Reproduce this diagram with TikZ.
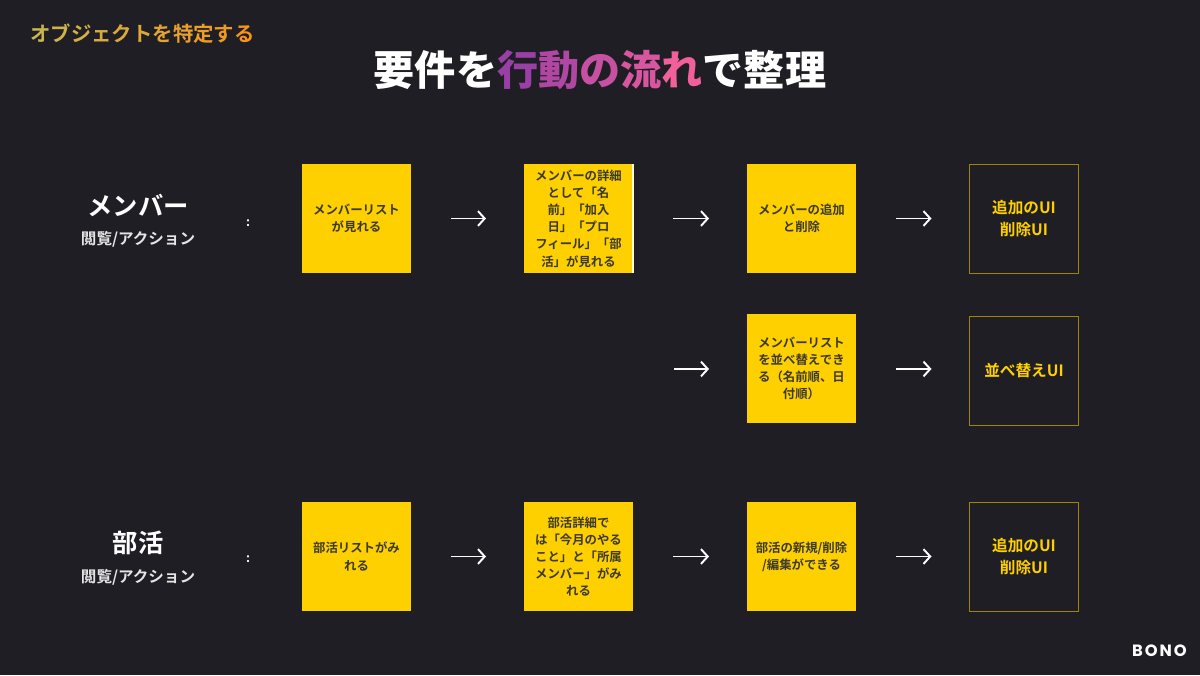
\documentclass[tikz,border=0pt]{standalone}
\usepackage{fontspec}
\setmainfont{Noto Sans CJK JP}[BoldFont={Noto Sans CJK JP Bold}]
\newfontfamily\headfont{Noto Sans CJK JP Black}
\newfontfamily\bonofont[LetterSpace=12]{Poppins Bold}
\usetikzlibrary{calc,arrows.meta}
\definecolor{bgdark}{HTML}{1E1E24}
\definecolor{memoyellow}{HTML}{FFD000}
\definecolor{memotext}{HTML}{3C3A2C}
\definecolor{uiedge}{HTML}{A08300}
\definecolor{gradA}{HTML}{9A3FA6}
\definecolor{gradB}{HTML}{F2609C}
\definecolor{subA}{HTML}{C9B64F}
\definecolor{subB}{HTML}{F8941A}
\tikzset{
	memo/.style={fill=memoyellow,text=memotext,minimum size=2.18cm,inner sep=0pt,outer sep=0pt,align=center,font=\bfseries\fontsize{7.05}{9.75}\selectfont},
	uibox/.style={draw=uiedge,line width=0.5pt,text=memoyellow,minimum size=2.18cm,inner sep=0pt,outer sep=0pt,align=center,font=\bfseries\fontsize{8.9}{13}\selectfont},
	flow/.style={white,line width=1.1pt,-{Straight Barb[length=3.8pt,width=8.4pt,line width=1.1pt]},shorten <=0.8cm,shorten >=0.76cm},
	rolelabel/.style={text=white,font=\bfseries\fontsize{14.4}{16}\selectfont},
	sublabel/.style={text=white!90!black,font=\bfseries\fontsize{8.85}{10}\selectfont},
	colonlabel/.style={text=white,font=\bfseries\fontsize{7}{8}\selectfont},
}
\begin{document}
\begin{tikzpicture}
		\fill [bgdark] (0,0) rectangle (24,13.5);
		\useasboundingbox (0,0) rectangle (24,13.5);
		% headings
		\node (kicker) [anchor=west,inner sep=0pt,font=\bfseries\fontsize{11.6}{12}\selectfont] at (0.6,12.82) {\textcolor{subA}{オ}\textcolor{subB!9!subA}{ブ}\textcolor{subB!18!subA}{ジ}\textcolor{subB!27!subA}{ェ}\textcolor{subB!36!subA}{ク}\textcolor{subB!45!subA}{ト}\textcolor{subB!55!subA}{を}\textcolor{subB!64!subA}{特}\textcolor{subB!73!subA}{定}\textcolor{subB!82!subA}{す}\textcolor{subB}{る}};
		\node (heading) [inner sep=0pt,text=white,font=\headfont\fontsize{23.4}{26}\selectfont] at (12,12.1) {要件を\textcolor{gradA}{行}\textcolor{gradB!25!gradA}{動}\textcolor{gradB!50!gradA}{の}\textcolor{gradB!70!gradA}{流}\textcolor{gradB}{れ}で整理};
		% left labels
		\node (member) [rolelabel] at (2.76,9.4) {メンバー};
		\node (membersub) [sublabel] at (2.76,8.72) {閲覧/アクション};
		\node (membercolon) [colonlabel] at (4.96,9.04) {:};
		\node (club) [rolelabel] at (2.76,2.64) {部活};
		\node (clubsub) [sublabel] at (2.76,1.96) {閲覧/アクション};
		\node (clubcolon) [colonlabel] at (4.96,2.32) {:};
		% first row
		\node (memberlist) [memo] at (7.13,9.13) {メンバーリスト\\が見れる};
		\node (memberdetail) [memo] at (11.57,9.13) {メンバーの詳細\\として「名\\前」「加入\\日」「プロ\\フィール」「部\\活」が見れる};
		\node (memberadd) [memo] at (16.03,9.13) {メンバーの追加\\と削除};
		\node (addui) [uibox] at (20.48,9.13) {追加のUI\\削除UI};
		\draw [white!85!memoyellow,line width=0.7pt] (memberdetail.north east) -- (memberdetail.south east);
		\draw [flow] (memberlist) -- (memberdetail);
		\draw [flow] (memberdetail) -- (memberadd);
		\draw [flow] (memberadd) -- (addui);
		% second row
		\coordinate (sortstart) at (13.48,6.12);
		\node (membersort) [memo] at (16.03,6.13) {メンバーリスト\\を並べ替えでき\\る（名前順、日\\付順）};
		\node (sortui) [uibox] at (20.48,6.09) {並べ替えUI};
		\draw [flow,shorten <=0pt] (sortstart) -- (membersort.west |- sortstart);
		\draw [flow] (membersort.east |- sortstart) -- (sortui.west |- sortstart);
		% third row
		\node (clublist) [memo] at (7.13,2.37) {部活リストがみ\\れる};
		\node (clubdetail) [memo] at (11.57,2.37) {部活詳細で\\は「今月のやる\\こと」と「所属\\メンバー」がみ\\れる};
		\node (clubedit) [memo] at (16.03,2.37) {部活の新規/削除\\/編集ができる};
		\node (clubui) [uibox] at (20.48,2.37) {追加のUI\\削除UI};
		\draw [flow] (clublist) -- (clubdetail);
		\draw [flow] (clubdetail) -- (clubedit);
		\draw [flow] (clubedit) -- (clubui);
		% logo
		\node (bono) [anchor=east,inner sep=0pt,text=white,font=\bonofont\fontsize{9.3}{10}\selectfont] at (23.74,0.48) {BONO};
		\end{tikzpicture}
\end{document}
